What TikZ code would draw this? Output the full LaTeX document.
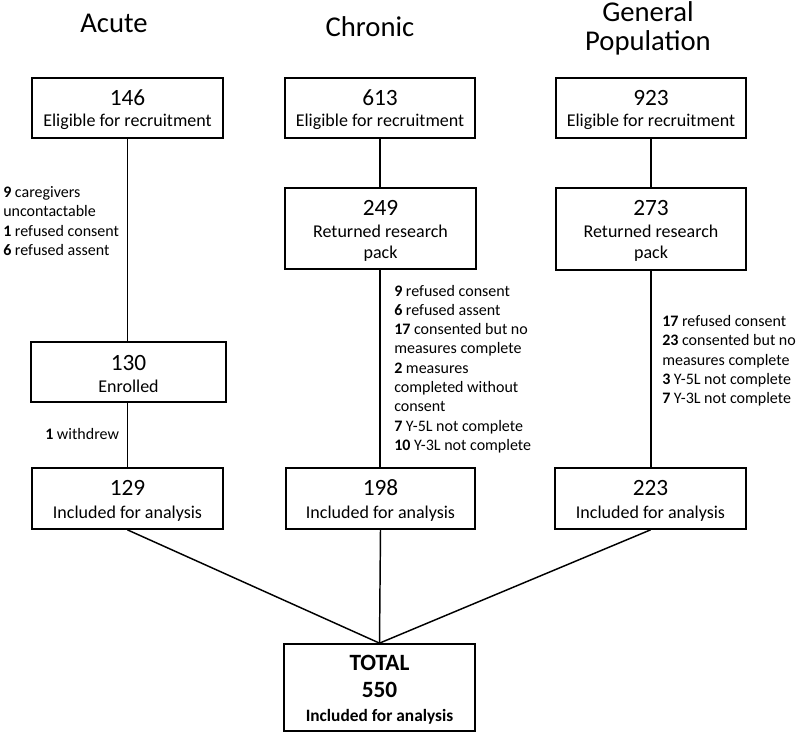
\documentclass[tikz,border=0pt]{standalone}
\usepackage{fontspec}
\setmainfont{Carlito}
\newcommand{\numf}{\fontsize{17.5}{21}\selectfont}
\newcommand{\subf}{\fontsize{13.5}{15.75}\selectfont}
\newcommand{\sidef}{\fontsize{12}{14.475}\selectfont}
\newcommand{\titf}{\fontsize{21.5}{21.2}\selectfont}
\begin{document}
\begin{tikzpicture}[x=0.75pt,y=-0.75pt,
  box/.style={draw, line width=1.3pt, inner sep=0pt},
  conn/.style={line width=1.1pt},
  numtxt/.style={anchor=base, inner sep=0pt, font=\numf},
  subtxt/.style={anchor=base, inner sep=0pt, font=\subf},
  sidetxt/.style={anchor=base west, inner sep=0pt, align=left, font=\sidef},
  title/.style={anchor=base, inner sep=0pt, align=center, font=\titf}]
\useasboundingbox (0,0) rectangle (797,733);
% titles (anchor base = baseline of last line)
\node[title] (tA) at (114,32) {Acute};
\node[title] (tC) at (370,36.5) {Chronic};
\node[title] (tG) at (648,50) {General\\Population};
% boxes
\node[box, minimum width=143.25pt, minimum height=45pt] (a1) at (127.5,108) {};
\node[box, minimum width=142.5pt, minimum height=45pt] (c1) at (380,108) {};
\node[box, minimum width=142.5pt, minimum height=45pt] (g1) at (651,108) {};
\node[box, minimum width=143.25pt, minimum height=60.75pt] (c2) at (380.5,228.5) {};
\node[box, minimum width=142.5pt, minimum height=61.5pt] (g2) at (651,229) {};
\node[box, minimum width=146.25pt, minimum height=45pt] (a2) at (128.5,372) {};
\node[box, minimum width=143.25pt, minimum height=45.75pt] (a3) at (127.5,498.5) {};
\node[box, minimum width=141.75pt, minimum height=45.75pt] (c3) at (380.5,498.5) {};
\node[box, minimum width=143.25pt, minimum height=45.75pt] (g3) at (650.5,498.5) {};
\node[box, minimum width=143.25pt, minimum height=65.25pt] (t) at (379.5,687.5) {};
% box texts
\node[numtxt] (a1n) at (127.5,105) {146};
\node[subtxt] (a1s) at (127.5,126) {Eligible for recruitment};
\node[numtxt] (c1n) at (380,105) {613};
\node[subtxt] (c1s) at (380,126) {Eligible for recruitment};
\node[numtxt] (g1n) at (651,105) {923};
\node[subtxt] (g1s) at (651,126) {Eligible for recruitment};
\node[numtxt] (c2n) at (380.5,215) {249};
\node[subtxt] (c2s) at (380.5,237) {Returned research};
\node[subtxt] (c2p) at (380.5,258) {pack};
\node[numtxt] (g2n) at (651,215) {273};
\node[subtxt] (g2s) at (651,237) {Returned research};
\node[subtxt] (g2p) at (651,258) {pack};
\node[numtxt] (a2n) at (128.5,370) {130};
\node[subtxt] (a2s) at (128.5,392) {Enrolled};
\node[numtxt] (a3n) at (127.5,495) {129};
\node[subtxt] (a3s) at (127.5,518) {Included for analysis};
\node[numtxt] (c3n) at (380.5,495) {198};
\node[subtxt] (c3s) at (380.5,518) {Included for analysis};
\node[numtxt] (g3n) at (650.5,495) {223};
\node[subtxt] (g3s) at (650.5,518) {Included for analysis};
\node[numtxt, font=\numf\bfseries] (tt) at (379.5,670) {TOTAL};
\node[numtxt, font=\numf\bfseries] (tn) at (379.5,697) {550};
\node[subtxt, font=\fontsize{13}{15}\selectfont\bfseries] (ts) at (379.5,721) {Included for analysis};
% side texts (anchor base west = baseline of last line)
\node[sidetxt] (sa) at (3,255.4) {\textbf{9} caregivers\\uncontactable\\\textbf{1} refused consent\\\textbf{6} refused assent};
\node[sidetxt] (sw) at (45,439) {\textbf{1} withdrew};
\node[sidetxt] (sc) at (394,450.4) {\textbf{9} refused consent\\\textbf{6} refused assent\\\textbf{17} consented but no\\measures complete\\\textbf{2} measures\\completed without\\consent\\\textbf{7} Y-5L not complete\\\textbf{10} Y-3L not complete};
\node[sidetxt] (sg) at (662,403.7) {\textbf{17} refused consent\\\textbf{23} consented but no\\measures complete\\\textbf{3} Y-5L not complete\\\textbf{7} Y-3L not complete};
% connectors
\draw[conn] (a1.south) -- (a1.south |- a2.north);
\draw[conn] (a2.south -| a1.south) -- (a1.south |- a3.north);
\draw[conn] (c1.south) -- (c1.south |- c2.north);
\draw[conn] (c2.south -| c1.south) -- (c1.south |- c3.north);
\draw[conn] (g1.south) -- (g1.south |- g2.north);
\draw[conn] (g2.south -| g1.south) -- (g1.south |- g3.north);
\draw[conn] (a3.south) -- (t.north);
\draw[conn] (c3.south) -- (t.north);
\draw[conn] (g3.south) -- (t.north);
\end{tikzpicture}
\end{document}
